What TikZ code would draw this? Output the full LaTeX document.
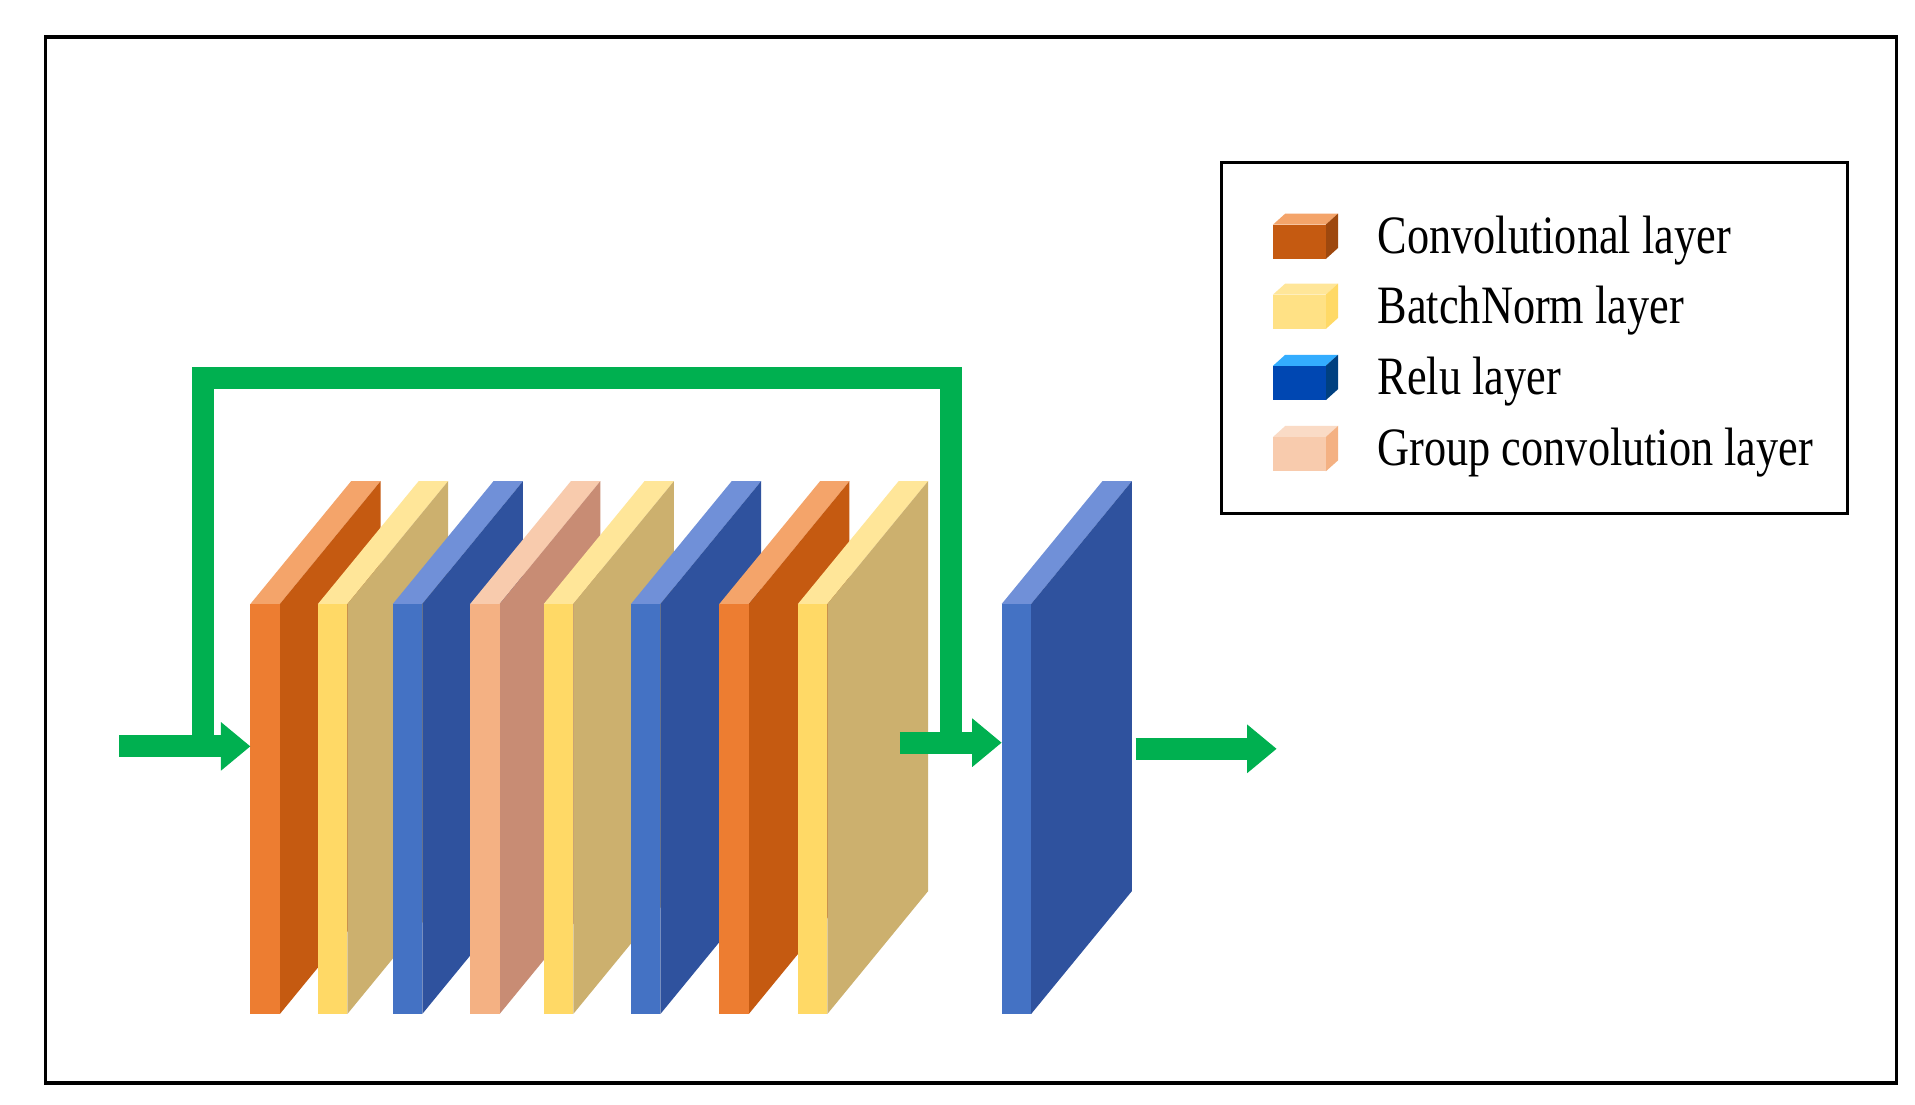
\documentclass[tikz,border=0pt]{standalone}
\usepackage{fontspec}
\setmainfont{Liberation Serif}
\usetikzlibrary{arrows.meta}
\definecolor{gr}{HTML}{00B050}
\begin{document}
\begin{tikzpicture}[x=0.5pt,y=-0.5pt,
  flow/.style={gr,line width=9pt},
  arr/.style={gr,line width=9pt,-{Triangle[length=12pt,width=19pt]}},
  lab/.style={anchor=west,font=\fontsize{22}{24}\selectfont,xscale=0.82,transform shape,inner sep=0pt}]
\useasboundingbox (0,0) rectangle (1560,900);
\fill[white] (0,0) rectangle (1560,900);
\draw[line width=1.5pt] (37,30) rectangle (1545,882);
\newcommand\slab[5]{% x, front, side, top, name
  \fill[#4] (#1,492) -- (#1+24,492) -- (#1+106,392) -- (#1+82,392) -- cycle;
  \fill[#3] (#1+24,492) -- (#1+106,392) -- (#1+106,726) -- (#1+24,826) -- cycle;
  \fill[#2] (#1,492) rectangle (#1+24,826);
  \coordinate (#5) at (#1,608);}
\colorlet{of}{orange!85!red!90!white}
\definecolor{of}{HTML}{ED7D31}\definecolor{os}{HTML}{C55A11}\definecolor{ot}{HTML}{F4A46A}
\definecolor{yf}{HTML}{FFD966}\definecolor{ys}{HTML}{CCB06E}\definecolor{yt}{HTML}{FFE699}
\definecolor{bf}{HTML}{4472C4}\definecolor{bs}{HTML}{2F529E}\definecolor{bt}{HTML}{7090D8}
\definecolor{pf}{HTML}{F4B183}\definecolor{ps}{HTML}{C88C74}\definecolor{pt}{HTML}{F8CBAD}
\slab{204}{of}{os}{ot}{s1}
\slab{259}{yf}{ys}{yt}{s2}
\slab{320}{bf}{bs}{bt}{s3}
\slab{383}{pf}{ps}{pt}{s4}
\slab{443}{yf}{ys}{yt}{s5}
\slab{514}{bf}{bs}{bt}{s6}
\slab{586}{of}{os}{ot}{s7}
\slab{650}{yf}{ys}{yt}{s8}
\slab{816}{bf}{bs}{bt}{s9}
\coordinate (in) at (97,608);
\coordinate (out0) at (925,610);
\coordinate (out1) at (1040,610);
\coordinate (m0) at (733,605);
\coordinate (m1) at (816,605);
\draw[arr] (in) -- (s1);
\draw[flow] (165,605) -- (165,308) -- (775,308) -- (775,605);
\draw[arr] (m0) -- (m1);
\draw[arr] (out0) -- (out1);
% legend
\draw[line width=1.2pt] (995,132) rectangle (1505,418);
\newcommand\cube[5]{% y, front, side, top, text
  \fill[#4] (1037,#1) -- (1080,#1) -- (1090,#1-9) -- (1047,#1-9) -- cycle;
  \fill[#3] (1080,#1) -- (1090,#1-9) -- (1090,#1+19) -- (1080,#1+28) -- cycle;
  \fill[#2] (1037,#1) rectangle (1080,#1+28);
  \node[lab] at (1122,#1+13) {#5};}
\cube{183}{os}{os!80!black}{ot}{Convolutional layer}
\cube{240}{yf!80!white}{yf}{yt}{BatchNorm layer}
\cube{298}{blue!60!cyan!70!black}{blue!50!cyan!50!black}{blue!40!cyan!80!white}{Relu layer}
\cube{356}{pt}{pf}{pt!70!white}{Group convolution layer}
\end{tikzpicture}
\end{document}
